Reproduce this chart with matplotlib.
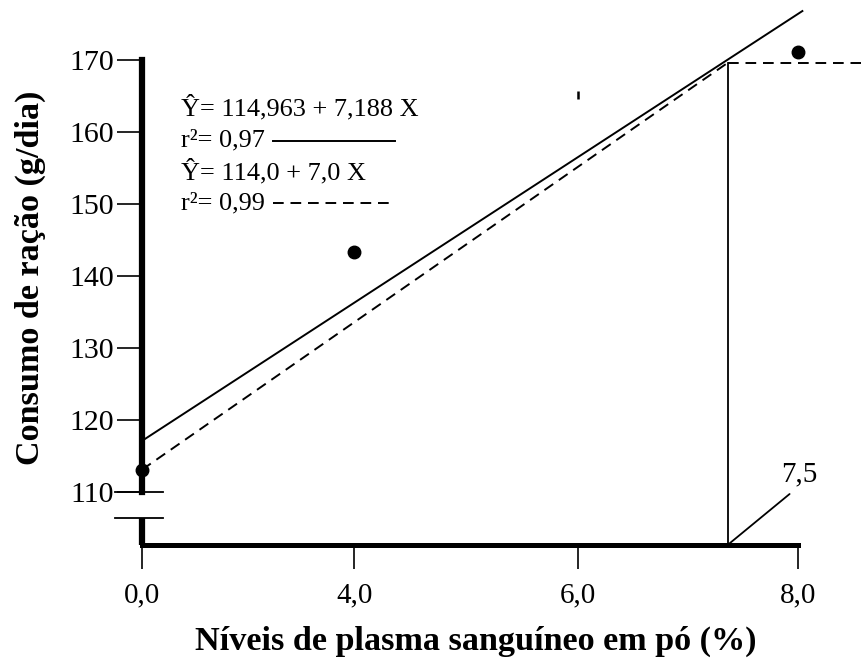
import numpy as np
import matplotlib
matplotlib.use('Agg')
import matplotlib.pyplot as plt

plt.rcParams['font.family'] = ['Liberation Serif', 'DejaVu Serif']

# values
niveis = [0.0, 4.0, 6.0, 8.0]
consumo = [113.1, 143.3, 165.1, 171.1]
x_labels = ['0,0', '4,0', '6,0', '8,0']
y_ticks = [110, 120, 130, 140, 150, 160, 170]

# regression lines as they were drawn
solid_x = [0.0, 8.04]
solid_y = [117.1, 176.8]
dashed_x = [0.0, 7.36]
dashed_y = [113.1, 169.6]
plateau_x = [7.36, 8.6]
plateau_y = [169.6, 169.6]
ponto_otimo = 7.36
ponto_label = '7,5'

eq_text = ['Ŷ= 114,963 + 7,188 X', 'r²= 0,97', 'Ŷ= 114,0 + 7,0 X', 'r²= 0,99']

# the levels are spaced (almost) evenly on the axis, not proportionally
knots_x = [-8.0, 0.0, 4.0, 6.0, 8.0, 16.0]
knots_p = [-2.0, 0.0, 0.97, 1.994, 3.0, 7.0]


def fwd(x):
    return np.interp(x, knots_x, knots_p)


def inv(p):
    return np.interp(p, knots_p, knots_x)


W, H = 862, 661
fig = plt.figure(figsize=(W / 100, H / 100), dpi=100)
# axes box: x from level 0 to 8, y from the x-axis line up to 170
ax = fig.add_axes([142 / W, (H - 545) / H, 656 / W, 485 / H])
ax.set_xscale('function', functions=(fwd, inv))
ax.set_xlim(0, 8)
ax.set_ylim(102.64, 170)

for s in ['top', 'right']:
    ax.spines[s].set_visible(False)
ax.spines['left'].set_bounds(110, 170)
ax.spines['left'].set_linewidth(4.5)
ax.spines['bottom'].set_bounds(0, 8)
ax.spines['bottom'].set_linewidth(3.6)

ax.set_yticks(y_ticks)
ax.set_yticklabels([str(v) for v in y_ticks])
ax.set_xticks(niveis)
ax.set_xticklabels(x_labels)
ax.tick_params(axis='y', direction='out', length=18, width=1.2, pad=2, labelsize=21.5)
ax.tick_params(axis='x', direction='out', length=17, width=1.2, pad=10, labelsize=21)

# axis break below 110
yt = ax.get_yaxis_transform()
for yb in [110, 106.4]:
    ax.plot([-0.041, 0.032], [yb, yb], color='k', lw=1.3, transform=yt, clip_on=False)
ax.plot([0, 0], [106.4, 102.64], color='k', lw=4.5, transform=yt, clip_on=False,
        solid_capstyle='butt')

# fitted lines
dash = (0, (5.5, 3.5))
ax.plot(solid_x, solid_y, color='k', lw=1.4, clip_on=False)
ax.plot(dashed_x, dashed_y, color='k', lw=1.4, ls=dash, clip_on=False)
ax.plot(plateau_x, plateau_y, color='k', lw=1.4, ls=dash, clip_on=False)
ax.plot([ponto_otimo, ponto_otimo], [102.64, plateau_y[0]], color='k', lw=1.3)

# observed means (the 6,0 point is only a faint mark in the original)
big = [i for i in range(len(niveis)) if i != 2]
ax.plot([niveis[i] for i in big], [consumo[i] for i in big], 'o', color='k',
        ms=9, clip_on=False, zorder=5)
ax.plot([niveis[2]], [consumo[2]], marker='|', ms=6, mew=1.8, color='k',
        ls='none', clip_on=False)

# leader and label for the optimum level
ax.annotate('', xy=(ponto_otimo, 102.64), xytext=(62, 51), textcoords='offset pixels',
            arrowprops=dict(arrowstyle='-', lw=1.3, shrinkA=0, shrinkB=0),
            annotation_clip=False)
ax.annotate(ponto_label, xy=(ponto_otimo, 102.64), xytext=(72, 71),
            textcoords='offset pixels', ha='center', va='center', fontsize=21,
            annotation_clip=False)

# equations
rows_y = [0.901, 0.835, 0.769, 0.705]
for t, yy in zip(eq_text, rows_y):
    ax.text(0.0595, yy, t, transform=ax.transAxes, fontsize=18.9, va='center', ha='left')
ax.plot([0.1997, 0.3857], [0.833, 0.833], color='k', lw=1.4, transform=ax.transAxes,
        clip_on=False)
ax.plot([0.1997, 0.3857], [0.705, 0.705], color='k', lw=1.4, ls=dash,
        transform=ax.transAxes, clip_on=False)

fig.text(476 / W, 1 - 641 / H, 'Níveis de plasma sanguíneo em pó (%)',
         ha='center', va='center', fontsize=24.6, fontweight='bold')
fig.text(30 / W, 1 - 278 / H, 'Consumo de ração (g/dia)', rotation=90,
         ha='center', va='center', fontsize=24.6, fontweight='bold')

fig.savefig('out.png', dpi=100)
